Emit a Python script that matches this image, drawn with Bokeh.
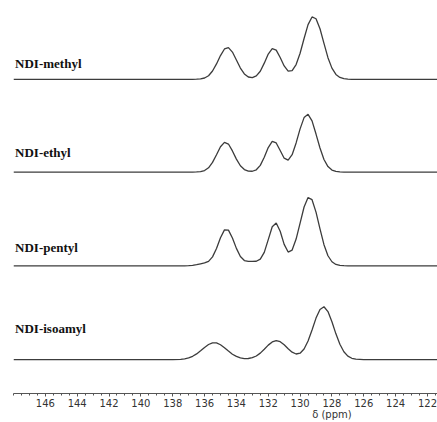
from bokeh.plotting import figure
from bokeh.models import Range1d, FixedTicker, ColumnDataSource
from bokeh.embed import file_html
from bokeh.resources import INLINE
from bokeh.core.properties import value

# chemical shift grid (ppm) over the aromatic region
ppm = [137.5, 137.25, 137.0, 136.75, 136.5, 136.25, 136.0, 135.75, 135.5, 135.25,
       135.0, 134.75, 134.5, 134.25, 134.0, 133.75, 133.5, 133.25, 133.0, 132.75,
       132.5, 132.25, 132.0, 131.75, 131.5, 131.25, 131.0, 130.75, 130.5, 130.25,
       130.0, 129.75, 129.5, 129.25, 129.0, 128.75, 128.5, 128.25, 128.0, 127.75,
       127.5, 127.25, 127.0, 126.75, 126.5]
# flat baseline points outside the grid
ppm_left = [148.0, 138.0]
ppm_right = [126.0, 121.3]

names = ["NDI-methyl", "NDI-ethyl", "NDI-pentyl", "NDI-isoamyl"]

methyl = [0, 0, 0, 0, 0.1, 0.4, 1.3, 3.6, 8.3, 15.4, 23.8, 30.4, 31.8, 27.3, 19.4,
          11.3, 5.4, 2.3, 1.7, 3.4, 8.1, 16.2, 25.3, 30.7, 29.3, 21.9, 13.4, 8.2,
          8.7, 14.8, 26.1, 40.9, 54.8, 62.5, 60.7, 50.7, 36.0, 21.7, 11.2, 4.9, 1.9,
          0.6, 0.2, 0, 0]
ethyl = [0, 0, 0, 0, 0.1, 0.4, 1.5, 4.3, 9.7, 17.3, 25.4, 29.8, 28.1, 21.2, 13.0,
         6.3, 2.5, 0.9, 0.8, 2.3, 6.7, 14.8, 24.6, 30.8, 29.2, 21.6, 13.9, 11.9,
         17.4, 29.2, 43.3, 54.6, 57.9, 51.3, 38.1, 24.1, 12.6, 5.5, 2.0, 0.6, 0.2,
         0, 0, 0, 0]
pentyl = [0, 0, 0.1, 0.4, 1.1, 2.0, 2.9, 4.5, 9.0, 17.4, 28.2, 36.0, 35.8, 27.9,
          17.5, 9.3, 5.3, 4.4, 4.4, 4.6, 6.7, 13.5, 26.3, 39.2, 43.0, 34.6, 21.5,
          13.8, 15.8, 26.8, 42.8, 59.0, 68.4, 66.3, 53.8, 37.1, 21.2, 10.1, 4.1,
          1.4, 0.4, 0.1, 0, 0, 0]
isoamyl = [0.3, 0.8, 1.7, 3.3, 5.7, 8.8, 12.2, 15.1, 16.8, 16.7, 14.9, 11.9, 8.5,
           5.4, 3.2, 1.7, 1.0, 1.1, 1.9, 3.6, 6.5, 10.4, 14.5, 17.7, 19.0, 17.9,
           14.8, 10.9, 7.4, 5.6, 6.4, 10.6, 18.6, 29.7, 41.6, 50.3, 53.0, 48.1,
           37.9, 25.8, 15.4, 7.9, 3.5, 1.3, 0.4]
spectra = [methyl, ethyl, pentyl, isoamyl]

ticks = [146, 144, 142, 140, 138, 136, 134, 132, 130, 128, 126, 124, 122]
minor = [x * 0.5 for x in range(243, 297)]
axis_title = "δ (ppm)"
axis_title_at = 128

# layout (vertical stacking of the traces, label placement)
offsets = [315, 222, 128, 34]
label_dy = [16, 20, 18, 31]

p = figure(width=437, height=422, output_backend="svg", toolbar_location=None,
           x_range=Range1d(148.0, 121.37), y_range=Range1d(0, 394),
           y_axis_location=None, min_border_left=13, min_border_right=0,
           min_border_top=0, min_border_bottom=28)
p.outline_line_color = None
p.xgrid.visible = False
p.ygrid.visible = False
p.background_fill_color = "white"
p.border_fill_color = "white"

ax = p.xaxis[0]
ax.ticker = FixedTicker(ticks=ticks, minor_ticks=minor)
ax.axis_line_color = "#555555"
ax.axis_line_width = 1
ax.major_tick_line_color = "#555555"
ax.minor_tick_line_color = "#555555"
ax.major_tick_in = 0
ax.major_tick_out = 3
ax.minor_tick_in = 0
ax.minor_tick_out = 2
ax.major_label_standoff = 1
ax.major_label_text_font = "DejaVu Sans"
ax.major_label_text_font_size = "10px"
ax.major_label_text_color = "#333333"
ax.major_label_text_line_height = 1.0
ax.major_label_overrides = {axis_title_at: f"{axis_title_at}\n{axis_title}"}

for vals, off in zip(spectra, offsets):
    xs = ppm_left + ppm + ppm_right
    ys = [off, off] + [off + v for v in vals] + [off, off]
    p.line(xs, ys, line_color="#3c3c3c", line_width=1.3)

src = ColumnDataSource(dict(x=[147.9] * len(names),
                            y=[o + d for o, d in zip(offsets, label_dy)],
                            t=names))
p.text(x="x", y="y", text="t", source=src, text_font=value("Liberation Serif"),
       text_font_style="bold", text_font_size="13px", text_baseline="middle",
       text_align="left", text_color="#111111")

open("out.html", "w").write(file_html(p, INLINE))
